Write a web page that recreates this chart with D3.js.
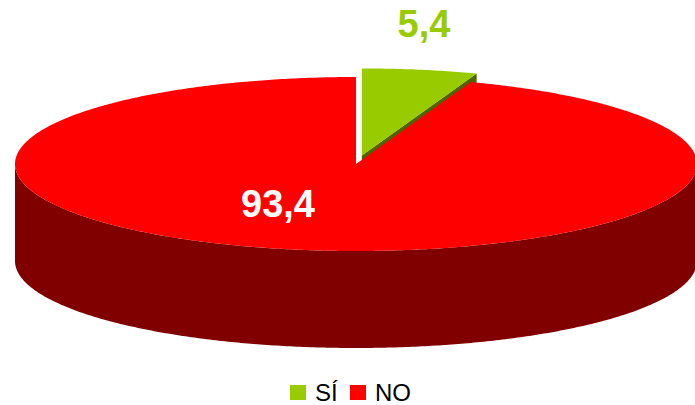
<!DOCTYPE html>
<html>
<head>
<meta charset="utf-8">
<script src="https://cdn.jsdelivr.net/npm/d3@7"></script>
<style>
  body { margin: 0; background: #fff; }
  svg { display: block; font-family: Arial, "Liberation Sans", sans-serif; }
</style>
</head>
<body>
<div id="chart"></div>
<script>
// data
const categories = ["SÍ", "NO"];
const values = [5.4, 93.4];
const valueLabels = ["5,4", "93,4"];
const topColors = ["#99cc00", "#ff0000"];
const sideColors = ["#4d6600", "#800000"];

const width = 695, height = 405;
const cx = 356, cy = 164, rx = 341, ry = 87, depth = 97;
const explode = [0.1, 0]; // slice pulled out, fraction of radius

const svg = d3.select("#chart").append("svg")
    .attr("width", width)
    .attr("height", height);

// projection of the unit circle to the tilted ellipse
const xScale = d3.scaleLinear().domain([-1, 1]).range([cx - rx, cx + rx]);
const yScale = d3.scaleLinear().domain([-1, 1]).range([cy - ry, cy + ry]);

const pie = d3.pie().sort(null).value(d => d)
    .startAngle(0).endAngle(2 * Math.PI);
const arcs = pie(values);

function pt(a, r, dz, off) {
    return [xScale(r * Math.sin(a) + off[0]), yScale(-r * Math.cos(a) + off[1]) + dz];
}
function samples(a0, a1) {
    const n = Math.max(2, Math.ceil((a1 - a0) / 0.01));
    return d3.range(n + 1).map(i => a0 + (a1 - a0) * i / n);
}
const line = d3.line();

function offsetOf(d, i) {
    const mid = (d.startAngle + d.endAngle) / 2;
    return [explode[i] * Math.sin(mid), -explode[i] * Math.cos(mid)];
}

function drawSlice(d, i) {
    const off = offsetOf(d, i);
    const g = svg.append("g");

    // radial face at end angle (faces the viewer when it opens toward the front)
    const endDir = Math.cos(d.endAngle + Math.PI / 2);
    if (d.endAngle < 2 * Math.PI - 1e-6 && endDir < 0) {
        g.append("path")
            .attr("d", line([pt(0, 0, 0, off), pt(d.endAngle, 1, 0, off),
                             pt(d.endAngle, 1, depth, off), pt(0, 0, depth, off)]) + "Z")
            .attr("fill", sideColors[i]);
    }

    // outer wall, front half only
    const w0 = Math.max(d.startAngle, Math.PI / 2);
    const w1 = Math.min(d.endAngle, 3 * Math.PI / 2);
    if (w1 > w0) {
        const angs = samples(w0, w1);
        const topPts = angs.map(a => pt(a, 1, 0, off));
        const botPts = angs.slice().reverse().map(a => pt(a, 1, depth, off));
        g.append("path")
            .attr("d", line(topPts.concat(botPts)) + "Z")
            .attr("fill", sideColors[i]);
    }

    // top face
    const rim = samples(d.startAngle, d.endAngle).map(a => pt(a, 1, 0, off));
    g.append("path")
        .attr("d", line([pt(0, 0, 0, off)].concat(rim)) + "Z")
        .attr("fill", topColors[i]);
}

// back slice first, then the big one
drawSlice(arcs[0], 0);
drawSlice(arcs[1], 1);

// value labels
const labelPos = [[424, 37, "#99cc00"], [278, 217, "#ffffff"]];
valueLabels.forEach((t, i) => {
    svg.append("text")
        .attr("x", labelPos[i][0])
        .attr("y", labelPos[i][1])
        .attr("text-anchor", "middle")
        .attr("font-size", 38)
        .attr("font-weight", "bold")
        .attr("fill", labelPos[i][2])
        .text(t);
});

// legend
const legendX = [290, 350];
const legend = svg.append("g");
categories.forEach((c, i) => {
    legend.append("rect")
        .attr("x", legendX[i]).attr("y", 385)
        .attr("width", 16).attr("height", 15)
        .attr("fill", topColors[i]);
    legend.append("text")
        .attr("x", legendX[i] + 25).attr("y", 401)
        .attr("font-size", 24)
        .attr("fill", "#000")
        .text(c);
});
</script>
</body>
</html>
